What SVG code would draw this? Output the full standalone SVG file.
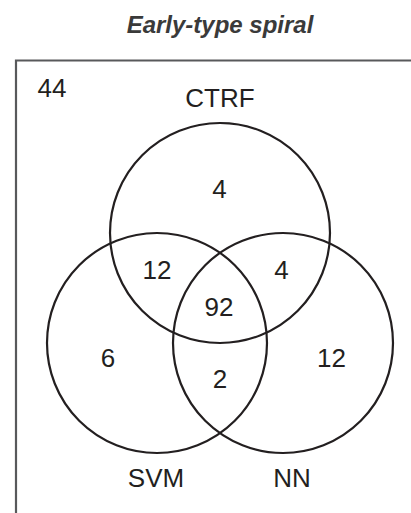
<svg xmlns="http://www.w3.org/2000/svg" width="411" height="513" viewBox="0 0 411 513">
  <style>
    .set { fill: none; stroke: #231f20; stroke-width: 2.2; }
    .frame { fill: none; stroke: #58595b; stroke-width: 2.2; }
    .lbl { font-family: "Liberation Sans", Arial, sans-serif; font-size: 26px; fill: #231f20; text-anchor: middle; }
    .title { font-family: "Liberation Sans", Arial, sans-serif; font-size: 24px; font-weight: bold; font-style: italic; fill: #3a3a3a; text-anchor: middle; }
  </style>
  <rect width="411" height="513" fill="#ffffff"/>
  <text class="title" x="220" y="33">Early-type spiral</text>
  <!-- open frame: top and left edges only -->
  <path class="frame" d="M411 60.5 H16 V513"/>
  <text class="lbl" x="52" y="96.5">44</text>

  <g id="connectors"></g>

  <g id="set-ctrf">
    <circle class="set" cx="220" cy="233" r="110"/>
    <text class="lbl" x="220" y="107">CTRF</text>
  </g>
  <g id="set-svm">
    <circle class="set" cx="157" cy="343" r="110"/>
    <text class="lbl" x="156" y="487">SVM</text>
  </g>
  <g id="set-nn">
    <circle class="set" cx="283" cy="343" r="110"/>
    <text class="lbl" x="292" y="487">NN</text>
  </g>

  <g id="regions">
    <text class="lbl" x="219.5" y="198">4</text>
    <text class="lbl" x="157" y="279">12</text>
    <text class="lbl" x="281.5" y="279">4</text>
    <text class="lbl" x="219" y="316">92</text>
    <text class="lbl" x="108" y="367">6</text>
    <text class="lbl" x="331.5" y="367">12</text>
    <text class="lbl" x="220" y="388">2</text>
  </g>
</svg>
